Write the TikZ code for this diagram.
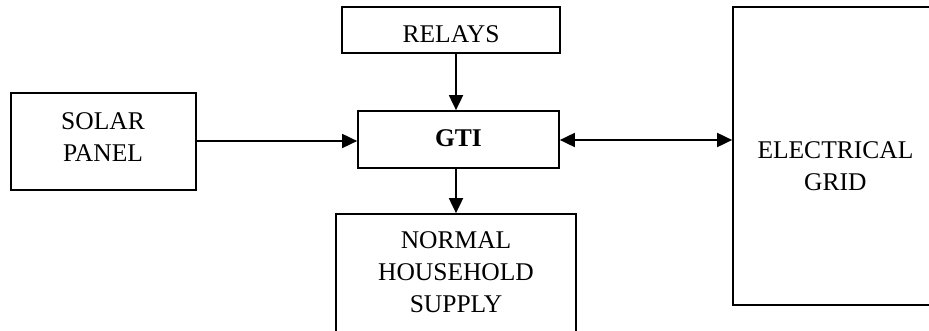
\documentclass[tikz,border=0pt]{standalone}
\usepackage{fontspec}
\setmainfont{Liberation Serif}
\usetikzlibrary{arrows.meta}
\begin{document}
\begin{tikzpicture}[x=1pt,y=-1pt,
  blk/.style={draw=black, line width=1.7pt, inner sep=0pt, fill=white},
  lbl/.style={inner sep=0pt, anchor=north, align=center, font=\fontsize{25.5}{32}\selectfont},
  conn/.style={line width=1.8pt, -{Triangle[length=15pt,width=14pt]}},
  bconn/.style={line width=1.8pt, {Triangle[length=15pt,width=14pt]}-{Triangle[length=15pt,width=14pt]}}]
\useasboundingbox (0,0) rectangle (929,331);
\fill[white] (0,0) rectangle (929,331);
% boxes
\node[blk, minimum width=185pt, minimum height=97pt] (solar) at (103.5,141.5) {};
\node[blk, minimum width=218pt, minimum height=46pt] (relays) at (451,30) {};
\node[blk, minimum width=201pt, minimum height=57pt] (gti) at (458.5,139.5) {};
\node[blk, minimum width=240pt, minimum height=146pt] (nh) at (456,287) {};
\node[blk, minimum width=240pt, minimum height=298pt] (grid) at (853,156) {};
% texts
\node[lbl] (solart) at (103,112) {SOLAR\\PANEL};
\node[lbl] (relayst) at (451,25) {RELAYS};
\node[lbl, font=\fontsize{25.5}{32}\selectfont\bfseries] (gtit) at (458.5,129.3) {GTI};
\node[lbl] (nht) at (456,231.5) {NORMAL\\HOUSEHOLD\\SUPPLY};
\node[lbl] (gridt) at (835.4,141.7) {ELECTRICAL\\GRID};
% connectors
\draw[conn] ([yshift=0.5pt]solar.east) -- ([yshift=0.5pt]solar.east -| gti.west);
\draw[conn] (relays.south -| nh.north) -- (gti.north -| nh.north);
\draw[conn] (gti.south -| nh.north) -- (nh.north);
\draw[bconn] ([yshift=-0.5pt]gti.east) -- ([yshift=-0.5pt]gti.east -| grid.west);
\end{tikzpicture}
\end{document}
